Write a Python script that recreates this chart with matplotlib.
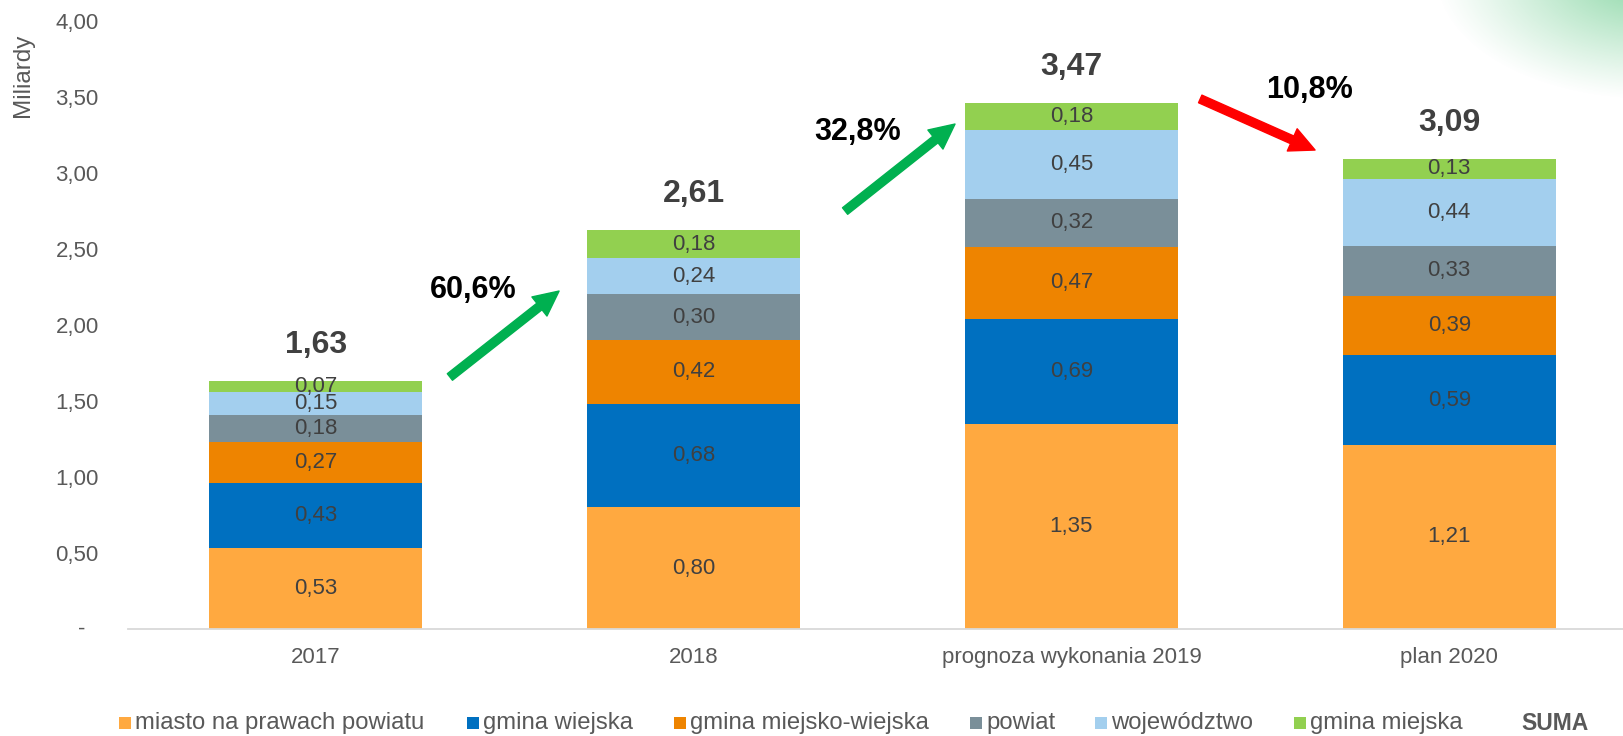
import numpy as np
import matplotlib
matplotlib.use("Agg")
import matplotlib.pyplot as plt
from matplotlib.patches import Rectangle
from matplotlib.transforms import offset_copy

plt.rcParams['font.family'] = ['Liberation Sans', 'DejaVu Sans']

# ---- data ----
categories = ["2017", "2018", "prognoza wykonania 2019", "plan 2020"]
series_names = ["miasto na prawach powiatu", "gmina wiejska", "gmina miejsko-wiejska",
                "powiat", "województwo", "gmina miejska"]
miasto_npp = [0.53, 0.80, 1.35, 1.21]
gmina_wiejska = [0.43, 0.68, 0.69, 0.59]
gmina_miejsko_wiejska = [0.27, 0.42, 0.47, 0.39]
powiat = [0.18, 0.30, 0.32, 0.33]
wojewodztwo = [0.15, 0.24, 0.45, 0.44]
gmina_miejska = [0.07, 0.18, 0.18, 0.13]
totals = [1.63, 2.61, 3.47, 3.09]
changes = ["60,6%", "32,8%", "10,8%"]
yticks = [0, 0.5, 1.0, 1.5, 2.0, 2.5, 3.0, 3.5, 4.0]

series = [miasto_npp, gmina_wiejska, gmina_miejsko_wiejska, powiat, wojewodztwo, gmina_miejska]
colors = ["#FFA940", "#0070C0", "#EE8400", "#7A8F99", "#A3CFEE", "#92D050"]

W, H = 1623, 736
fig = plt.figure(figsize=(W / 100, H / 100), dpi=100)

# soft green glow top-right corner
gax = fig.add_axes([1420 / W, 1 - 120 / H, (W - 1420) / W, 120 / H])
gx = np.linspace(1420, W, 220)
gy = np.linspace(0, 120, 90)
GX, GY = np.meshgrid(gx, gy)
r = np.sqrt(((GX - 1650) / 215) ** 2 + ((GY + 25) / 125) ** 2)
alpha = np.clip(1 - r, 0, 1) ** 1.1 * 0.9
img = np.zeros((len(gy), len(gx), 4))
img[..., 0] = 0.48
img[..., 1] = 0.82
img[..., 2] = 0.60
img[..., 3] = alpha
gax.imshow(img, aspect='auto', interpolation='bilinear')
gax.axis('off')

ax = fig.add_axes([128 / W, 1 - 629 / H, (W - 128) / W, (629 - 20.6) / H])
x = np.arange(len(categories))
width = 0.564
bottom = np.zeros(len(categories))
for vals, col in zip(series, colors):
    vals = np.array(vals)
    ax.bar(x, vals, width, bottom=bottom, color=col, edgecolor='none', zorder=2)
    for xi, b, v in zip(x, bottom, vals):
        ax.text(xi, b + v / 2, f"{v:.2f}".replace('.', ','), ha='center', va='center',
                fontsize=16, color='#404040', zorder=3)
    bottom = bottom + vals

for xi, top, t in zip(x, bottom, totals):
    ax.annotate(f"{t:.2f}".replace('.', ','), (xi, top), xytext=(0, 26), textcoords='offset points',
                ha='center', va='center', fontsize=23, fontweight='bold', color='#404040')

ax.set_xlim(-0.497, 3.46)
ax.set_ylim(0, 4.0)
ax.set_yticks(yticks)
ax.set_yticklabels([f"{v:.2f}".replace('.', ',') if v != 0 else "" for v in yticks])
ax.text(0, 0, "-", transform=offset_copy(ax.get_yaxis_transform(), fig=fig, x=-46, y=0, units='dots'),
        ha='center', va='center', fontsize=16, color='#595959')
ax.tick_params(axis='y', length=0, pad=21, labelsize=16, labelcolor='#595959')
ax.set_xticks(x)
ax.set_xticklabels(categories)
ax.tick_params(axis='x', length=0, pad=13, labelsize=16, labelcolor='#595959')
for s in ['top', 'right', 'left']:
    ax.spines[s].set_visible(False)
ax.spines['bottom'].set_color('#D9D9D9')
ax.spines['bottom'].set_linewidth(1.3)
ax.set_facecolor('none')

fig.text(23 / W, 1 - 75 / H, "Miliardy", rotation=90, ha='center', va='center',
         fontsize=17.5, color='#595959')

# growth arrows and labels
arrow_specs = [((0.355, 1.657), (0.644, 2.222), "#00B050"),
               ((1.401, 2.748), (1.692, 3.320), "#00B050"),
               ((2.341, 3.485), (2.645, 3.149), "#FF0000")]
label_pos = [(0.416, 2.229), (1.433, 3.268), (2.629, 3.544)]
for (tail, tip, col), lp, txt in zip(arrow_specs, label_pos, changes):
    ax.annotate('', xy=tip, xytext=tail,
                arrowprops=dict(arrowstyle='simple,head_length=1.8,head_width=1.75,tail_width=0.6',
                                color=col, mutation_scale=10, shrinkA=0, shrinkB=0))
    ax.text(lp[0], lp[1], txt, ha='center', va='center', fontsize=22, fontweight='bold', color='black')

# legend (manual)
sq_left = [119, 467, 674, 970, 1095, 1294]
yc = 723
for sl, name, col in zip(sq_left, series_names, colors):
    fig.patches.append(Rectangle((sl / W, 1 - (yc + 6) / H), 12 / W, 12 / H,
                                 transform=fig.transFigure, facecolor=col, edgecolor='none'))
    fig.text((sl + 16) / W, 1 - yc / H, name, ha='left', va='center', fontsize=17.2, color='#595959')
fig.text(1521 / W, 1 - yc / H, "SUMA", ha='left', va='center', fontsize=16.5, fontweight='bold', color='#595959')

fig.savefig("out.png", dpi=100)
